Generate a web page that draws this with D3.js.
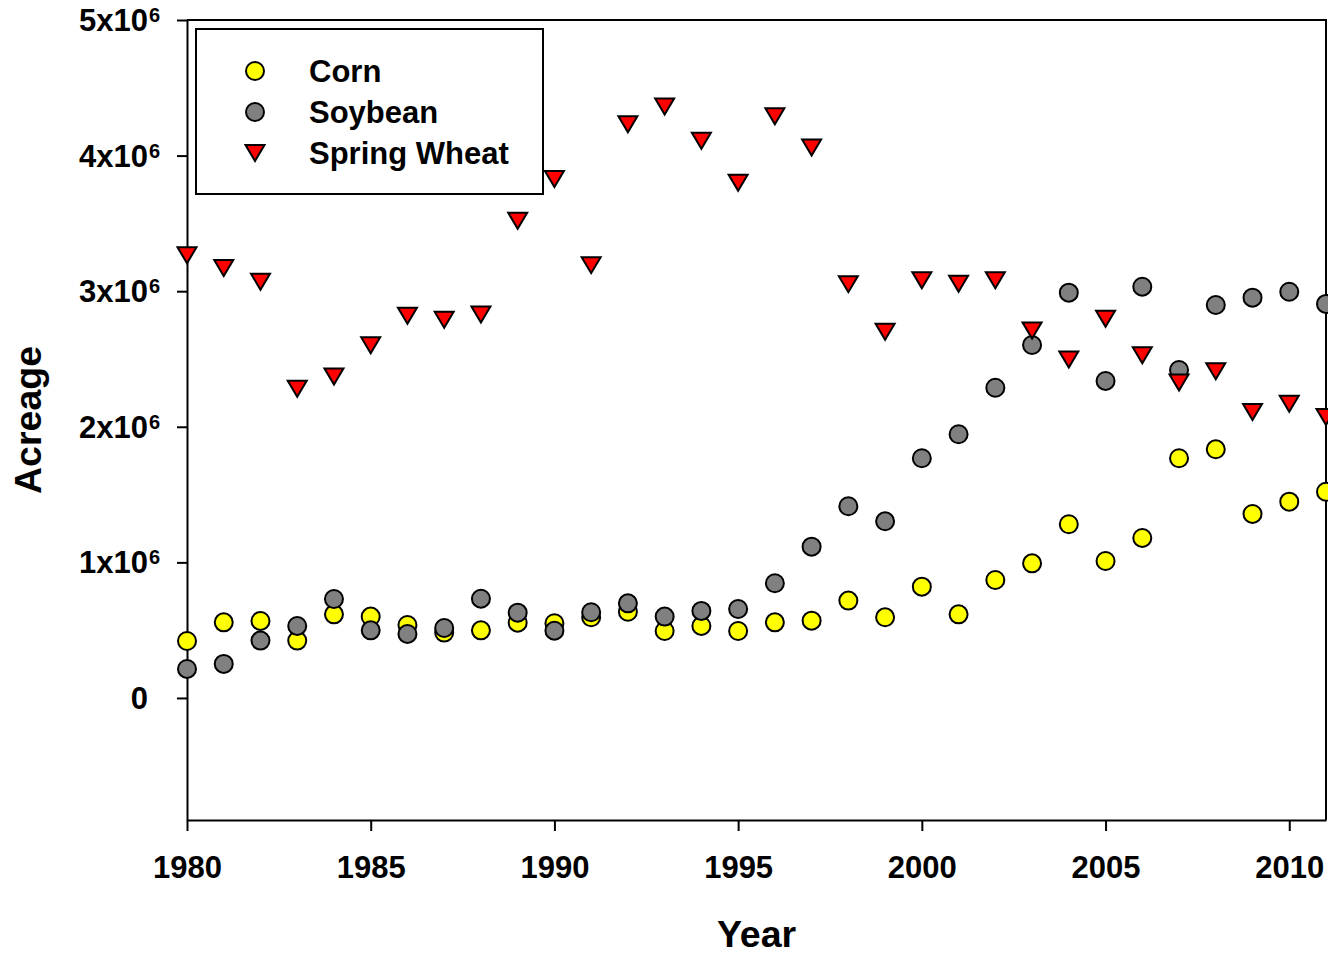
<!DOCTYPE html>
<html>
<head>
<meta charset="utf-8">
<script src="https://cdn.jsdelivr.net/npm/d3@7"></script>
<style>
  body { margin: 0; background: #fff; }
  svg { display: block; font-family: "Liberation Sans", Arial, sans-serif; font-weight: bold; }
</style>
</head>
<body>
<div id="vis"></div>
<script>
const FRAME_WIDTH = 1328;
const FRAME_HEIGHT = 954;
const MARGINS = { top: 20, bottom: 134, left: 187, right: 2 };
const VIS_WIDTH = FRAME_WIDTH - MARGINS.left - MARGINS.right;
const VIS_HEIGHT = FRAME_HEIGHT - MARGINS.top - MARGINS.bottom;

// data, in acres
const YEARS = [1980, 1981, 1982, 1983, 1984, 1985, 1986, 1987, 1988, 1989,
  1990, 1991, 1992, 1993, 1994, 1995, 1996, 1997, 1998, 1999,
  2000, 2001, 2002, 2003, 2004, 2005, 2006, 2007, 2008, 2009, 2010, 2011];
const CORN = [420000, 558000, 568000, 423000, 617000, 600000, 538000, 482000, 499000, 555000,
  551000, 595000, 636000, 494000, 531000, 494000, 558000, 570000, 718000, 595000,
  821000, 617000, 870000, 993000, 1281000, 1010000, 1180000, 1768000, 1834000, 1357000, 1448000, 1521000];
const SOYBEAN = [214000, 251000, 423000, 531000, 730000, 499000, 472000, 516000, 732000, 629000,
  496000, 632000, 698000, 600000, 642000, 656000, 846000, 1116000, 1414000, 1303000,
  1768000, 1945000, 2288000, 2603000, 2989000, 2338000, 3033000, 2419000, 2898000, 2952000, 2996000, 2906000];
const SPRING_WHEAT = [3265000, 3171000, 3070000, 2281000, 2371000, 2601000, 2819000, 2789000, 2828000, 3519000,
  3827000, 3192000, 4231000, 4362000, 4109000, 3800000, 4290000, 4060000, 3052000, 2701000,
  3080000, 3055000, 3080000, 2710000, 2496000, 2797000, 2527000, 2327000, 2409000, 2109000, 2170000, 2072000];

const X_TICKS = [1980, 1985, 1990, 1995, 2000, 2005, 2010];
const Y_TICKS = [0, 1000000, 2000000, 3000000, 4000000, 5000000];
const Y_TICK_BASE = ["0", "1x10", "2x10", "3x10", "4x10", "5x10"];
const Y_TICK_EXP = ["", "6", "6", "6", "6", "6"];

const SERIES = [
  { name: "Corn", values: CORN, shape: "circle", fill: "#ffff00" },
  { name: "Soybean", values: SOYBEAN, shape: "circle", fill: "#808080" },
  { name: "Spring Wheat", values: SPRING_WHEAT, shape: "triangle", fill: "#ff0000" },
];

const FRAME = d3.select("#vis")
  .append("svg")
  .attr("width", FRAME_WIDTH)
  .attr("height", FRAME_HEIGHT);

const X_SCALE = d3.scaleLinear().domain([1980, 2011]).range([0, VIS_WIDTH]);
const Y_SCALE = d3.scaleLinear().domain([-900000, 5000000]).range([VIS_HEIGHT, 0]);

const PLOT = FRAME.append("g")
  .attr("transform", `translate(${MARGINS.left},${MARGINS.top})`);

// frame top and right
PLOT.append("path")
  .attr("d", `M0,0H${VIS_WIDTH}V${VIS_HEIGHT}`)
  .attr("fill", "none")
  .attr("stroke", "#000")
  .attr("stroke-width", 2);

// x axis
const xAxis = PLOT.append("g")
  .attr("transform", `translate(0,${VIS_HEIGHT})`)
  .call(d3.axisBottom(X_SCALE).tickValues(X_TICKS).tickSize(11).tickSizeOuter(0).tickFormat(d3.format("d")));
xAxis.select(".domain").attr("stroke-width", 2);
xAxis.selectAll(".tick line").attr("stroke-width", 2);
xAxis.selectAll(".tick text")
  .attr("y", 58)
  .attr("dy", null)
  .attr("font-size", 31)
  .attr("font-weight", "bold")
  .attr("font-family", "Liberation Sans, Arial, sans-serif")
  .attr("fill", "#000");

// y axis
const yAxis = PLOT.append("g")
  .call(d3.axisLeft(Y_SCALE).tickValues(Y_TICKS).tickSize(10).tickSizeOuter(0).tickFormat(""));
yAxis.select(".domain").attr("stroke-width", 2);
yAxis.selectAll(".tick line").attr("stroke-width", 2);

const yLabels = PLOT.selectAll(".ylab")
  .data(Y_TICKS)
  .enter()
  .append("g")
  .attr("class", "ylab")
  .attr("transform", (d) => `translate(-39,${Y_SCALE(d)})`);
yLabels.append("text")
  .attr("y", 11)
  .attr("text-anchor", "end")
  .attr("font-size", 31)
  .text((d, i) => Y_TICK_BASE[i]);
yLabels.append("text")
  .attr("x", 1)
  .attr("y", 2)
  .attr("font-size", 20)
  .text((d, i) => Y_TICK_EXP[i]);

// axis titles
FRAME.append("text")
  .attr("x", MARGINS.left + VIS_WIDTH / 2)
  .attr("y", 947)
  .attr("text-anchor", "middle")
  .attr("font-size", 37.5)
  .text("Year");

FRAME.append("text")
  .attr("transform", "translate(41,420) rotate(-90)")
  .attr("text-anchor", "middle")
  .attr("font-size", 37.5)
  .text("Acreage");

const TRIANGLE = "M-9.5,-8L9.5,-8L0,8Z";

function drawMarker(sel, s) {
  if (s.shape === "circle") {
    sel.append("circle").attr("r", 9);
  } else {
    sel.append("path").attr("d", TRIANGLE);
  }
  sel.selectAll("circle, path")
    .attr("fill", s.fill)
    .attr("stroke", "#000")
    .attr("stroke-width", 2);
}

// points
SERIES.forEach((s) => {
  const pts = PLOT.append("g")
    .selectAll("g")
    .data(s.values)
    .enter()
    .append("g")
    .attr("transform", (d, i) => `translate(${X_SCALE(YEARS[i])},${Y_SCALE(d)})`);
  if (s.shape === "circle") {
    pts.append("circle").attr("r", 9);
  } else {
    pts.append("path").attr("d", TRIANGLE);
  }
  pts.selectAll("circle, path")
    .attr("fill", s.fill)
    .attr("stroke", "#000")
    .attr("stroke-width", 2);
});

// legend
const LEGEND = FRAME.append("g");
LEGEND.append("rect")
  .attr("x", 196)
  .attr("y", 29)
  .attr("width", 347)
  .attr("height", 165)
  .attr("fill", "#fff")
  .attr("stroke", "#000")
  .attr("stroke-width", 2);

SERIES.forEach((s, i) => {
  const row = LEGEND.append("g").attr("transform", `translate(255,${71 + i * 41})`);
  drawMarker(row, s);
  row.append("text")
    .attr("x", 54)
    .attr("y", 11)
    .attr("font-size", 31)
    .text(s.name);
});
</script>
</body>
</html>
